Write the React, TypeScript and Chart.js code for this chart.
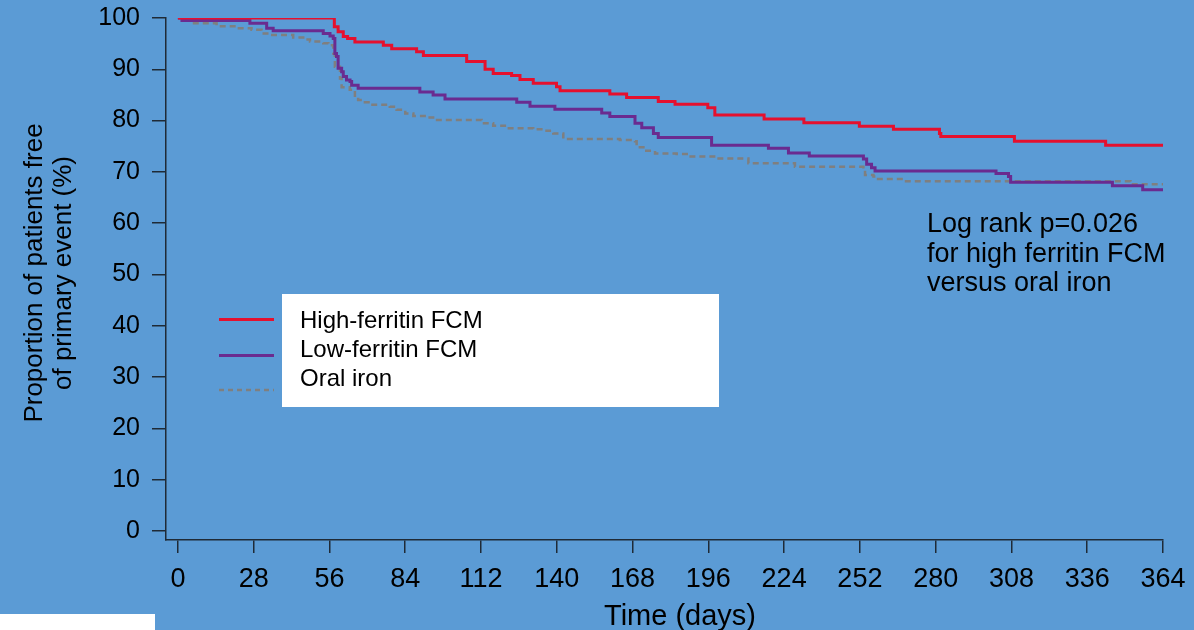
import React, { useEffect, useRef } from "react";
import { Chart, registerables } from "chart.js";

Chart.register(...registerables);

// ---- data ----
const xTicks = [0, 28, 56, 84, 112, 140, 168, 196, 224, 252, 280, 308, 336, 364];
const yTicks = [0, 10, 20, 30, 40, 50, 60, 70, 80, 90, 100];

const seriesNames = ["High-ferritin FCM", "Low-ferritin FCM", "Oral iron"];

const highFerritinDays = [0, 57.8, 59.2, 61.1, 62.7, 65.4, 75.9, 79.0, 88.2, 90.7, 106.7, 113.5, 116.5, 123.3, 126.4, 131.3, 139.9, 141.2, 159.6, 165.8, 177.5, 183.7, 195.8, 198.4, 216.6, 231.3, 251.8, 264.4, 281.4, 281.9, 309.1, 342.8, 364];
const highFerritinPct = [100, 98.3, 97.3, 96.4, 96.0, 95.3, 94.7, 94.0, 93.4, 92.7, 91.5, 90.0, 89.2, 88.8, 88.0, 87.3, 86.6, 85.8, 85.2, 84.5, 83.7, 83.2, 82.5, 81.1, 80.3, 79.6, 78.9, 78.3, 77.5, 76.9, 76.0, 75.2, 75.2];

const lowFerritinDays = [0, 1.5, 26.6, 32.8, 35.2, 53.7, 56.2, 57.4, 58.0, 58.6, 59.2, 60.5, 61.1, 62.3, 63.6, 64.2, 66.6, 89.4, 94.3, 98.7, 125.2, 130.1, 139.3, 156.6, 159.6, 168.9, 171.4, 175.7, 177.5, 197.2, 218.2, 225.6, 233.3, 253.3, 254.5, 256.3, 257.6, 302.3, 306.9, 307.7, 345.3, 356.5, 364];
const lowFerritinPct = [100, 99.5, 99.0, 98.0, 97.5, 97.0, 96.5, 96.0, 93.1, 92.5, 90.2, 89.5, 88.6, 87.9, 87.6, 86.9, 86.3, 85.6, 85.0, 84.2, 83.6, 82.8, 82.2, 81.5, 80.8, 79.5, 78.6, 77.5, 76.7, 75.2, 74.6, 73.7, 73.1, 72.5, 71.5, 70.8, 70.2, 69.7, 69.1, 68.0, 67.3, 66.5, 66.5];

const oralIronDays = [0, 2, 5, 14.3, 21.7, 27.2, 30.9, 34.0, 42.6, 46.3, 48.8, 53.7, 55.6, 57.4, 58.0, 59.9, 60.5, 63.5, 65.4, 66.6, 69.1, 71.0, 78.3, 80.8, 84.0, 87.0, 92.5, 95.0, 112.2, 116.5, 120.8, 131.3, 136.2, 138.7, 142.4, 163.3, 168.9, 169.5, 172.0, 176.3, 184.3, 188.6, 199.1, 210.8, 228.0, 253.3, 253.9, 257.0, 258.2, 267.4, 352.0, 364];
const oralIronPct = [100, 99.5, 99.0, 98.4, 98.0, 97.7, 97.0, 96.7, 96.2, 95.8, 95.4, 95.1, 94.7, 93.1, 90.5, 88.2, 86.5, 86.0, 84.5, 84.0, 83.6, 83.1, 82.7, 82.1, 81.4, 80.9, 80.6, 80.1, 79.5, 79.0, 78.5, 78.3, 78.0, 77.5, 76.4, 76.2, 76.0, 74.8, 74.1, 73.6, 73.5, 73.0, 72.6, 71.7, 71.0, 70.4, 69.4, 69.1, 68.6, 68.2, 67.6, 67.6];

const annotationLines = ["Log rank p=0.026", "for high ferritin FCM", "versus oral iron"];
const yTitleLines = ["Proportion of patients free", "of primary event (%)"];
const xTitle = "Time (days)";

// ---- styles ----
const FONT = "'Liberation Sans', Arial, Helvetica, sans-serif";
const BG = "#5B9BD5";
const AXIS = "#1f2a36";
const RED = "#E5102E";
const PURPLE = "#6A2B90";
const GRAY = "#7f7f7f";

const toPoints = (xs: number[], ys: number[]) => xs.map((x, i) => ({ x, y: ys[i] }));

const bgPlugin = {
  id: "bgFill",
  beforeDraw(chart: any) {
    const { ctx, width, height } = chart;
    ctx.save();
    ctx.fillStyle = BG;
    ctx.fillRect(0, 0, width, height);
    ctx.restore();
  },
};

const decorPlugin = {
  id: "decor",
  afterDraw(chart: any) {
    const ctx = chart.ctx as CanvasRenderingContext2D;
    ctx.save();

    // legend box
    ctx.fillStyle = "#ffffff";
    ctx.fillRect(282, 294, 437, 113);
    // legend samples
    const samples = [
      { y: 319.5, color: RED, width: 3, dash: [] as number[] },
      { y: 355.5, color: PURPLE, width: 3, dash: [] as number[] },
      { y: 390, color: GRAY, width: 2.5, dash: [5, 4] },
    ];
    samples.forEach((s) => {
      ctx.beginPath();
      ctx.strokeStyle = s.color;
      ctx.lineWidth = s.width;
      ctx.setLineDash(s.dash);
      ctx.moveTo(219, s.y);
      ctx.lineTo(274, s.y);
      ctx.stroke();
    });
    ctx.setLineDash([]);
    ctx.fillStyle = "#000";
    ctx.font = `24px ${FONT}`;
    ctx.textAlign = "left";
    ctx.textBaseline = "alphabetic";
    const legendBase = [327.5, 356.5, 385.5];
    seriesNames.forEach((n, i) => ctx.fillText(n, 300, legendBase[i]));

    // annotation
    ctx.font = `27px ${FONT}`;
    const annBase = [232, 261.5, 290.5];
    annotationLines.forEach((t, i) => ctx.fillText(t, 927, annBase[i]));

    // x title
    ctx.font = `29px ${FONT}`;
    ctx.textAlign = "center";
    ctx.fillText(xTitle, 680, 625);

    // y title
    ctx.font = `26px ${FONT}`;
    const yBase = [42, 71];
    yTitleLines.forEach((t, i) => {
      ctx.save();
      ctx.translate(yBase[i], 273);
      ctx.rotate(-Math.PI / 2);
      ctx.textAlign = "center";
      ctx.fillText(t, 0, 0);
      ctx.restore();
    });

    // bottom-left white box
    ctx.fillStyle = "#ffffff";
    ctx.fillRect(0, 614, 155, 16);

    ctx.restore();
  },
};

export default function App() {
  const canvasRef = useRef<HTMLCanvasElement | null>(null);

  useEffect(() => {
    const canvas = canvasRef.current;
    if (!canvas) return;
    const chart = new Chart(canvas, {
      type: "line",
      data: {
        datasets: [
          {
            label: seriesNames[0],
            data: toPoints(highFerritinDays, highFerritinPct),
            borderColor: RED,
            borderWidth: 3,
            stepped: true,
            pointRadius: 0,
            fill: false,
          },
          {
            label: seriesNames[1],
            data: toPoints(lowFerritinDays, lowFerritinPct),
            borderColor: PURPLE,
            borderWidth: 3,
            stepped: true,
            pointRadius: 0,
            fill: false,
          },
          {
            label: seriesNames[2],
            data: toPoints(oralIronDays, oralIronPct),
            borderColor: GRAY,
            borderWidth: 2.5,
            borderDash: [6, 4],
            stepped: true,
            pointRadius: 0,
            fill: false,
          },
        ],
      },
      options: {
        responsive: false,
        animation: false,
        devicePixelRatio: 1,
        events: [],
        layout: { padding: { top: 18, right: 31, left: 0, bottom: 0 } },
        plugins: { legend: { display: false }, tooltip: { enabled: false }, title: { display: false } },
        scales: {
          x: {
            type: "linear",
            min: -4.4,
            max: 364,
            afterBuildTicks: (s: any) => {
              s.ticks = xTicks.map((v) => ({ value: v }));
            },
            afterFit: (s: any) => {
              s.height = 90;
              s.paddingLeft = 0;
              s.paddingRight = 0;
            },
            border: { display: true, color: AXIS, width: 1.5 },
            grid: { drawOnChartArea: false, drawTicks: true, tickLength: 13, color: AXIS, lineWidth: 1.5 },
            ticks: {
              font: { family: FONT, size: 27 },
              color: "#000",
              padding: 10,
              maxRotation: 0,
              autoSkip: false,
              callback: (v: any) => String(v),
            },
          },
          y: {
            type: "linear",
            min: -1.75,
            max: 100,
            afterBuildTicks: (s: any) => {
              s.ticks = yTicks.map((v) => ({ value: v }));
            },
            afterFit: (s: any) => {
              s.width = 166;
              s.paddingTop = 0;
              s.paddingBottom = 0;
            },
            border: { display: true, color: AXIS, width: 1.5 },
            grid: { drawOnChartArea: false, drawTicks: true, tickLength: 14, color: AXIS, lineWidth: 1.5 },
            ticks: {
              font: { family: FONT, size: 25 },
              color: "#000",
              padding: 12,
              autoSkip: false,
              callback: (v: any) => String(v),
            },
          },
        },
      },
      plugins: [bgPlugin, decorPlugin],
    });
    return () => chart.destroy();
  }, []);

  return (
    <div style={{ position: "fixed", left: 0, top: 0, width: 1194, height: 630, background: BG }}>
      <canvas ref={canvasRef} width={1194} height={630} style={{ display: "block", width: 1194, height: 630 }} />
    </div>
  );
}
